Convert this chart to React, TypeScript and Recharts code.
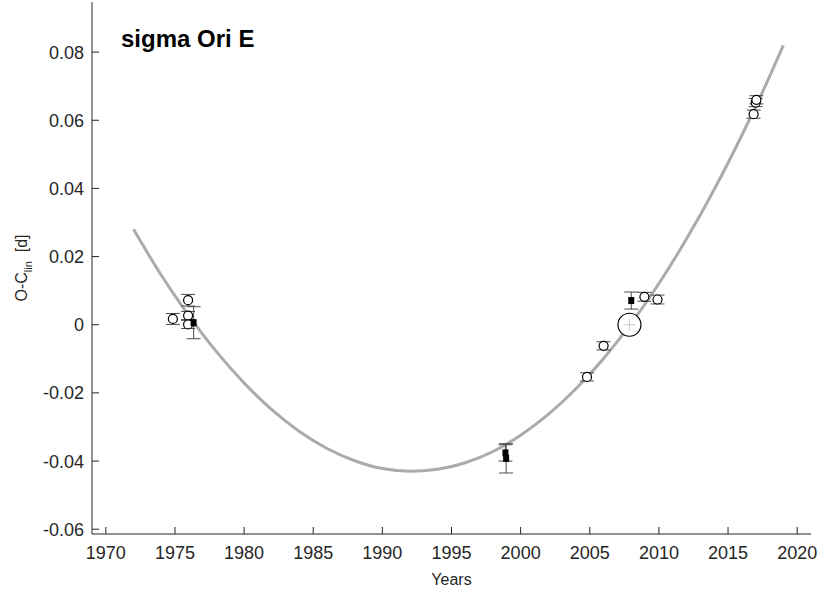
import React from "react";
import { ComposedChart, Line, Scatter, XAxis, YAxis, ErrorBar, Label } from "recharts";

// quadratic ephemeris fit, read at two-year steps
const fitYears = [1972, 1974, 1976, 1978, 1980, 1982, 1984, 1986, 1988, 1990, 1992, 1994, 1996, 1998, 2000, 2002, 2004, 2006, 2008, 2010, 2012, 2014, 2016, 2018, 2019];
const fitValues = [0.028, 0.0146, 0.0027, -0.0079, -0.0171, -0.0249, -0.0313, -0.0363, -0.0399, -0.0422, -0.043, -0.0424, -0.0405, -0.0372, -0.0324, -0.0263, -0.0188, -0.0099, 0.0004, 0.0121, 0.0252, 0.0397, 0.0556, 0.0728, 0.082];

// photometric minima (open circles)
const openYears = [1974.85, 1975.95, 1975.95, 1975.95, 2004.8, 2006.0, 2008.95, 2009.9, 2016.85, 2017.0, 2017.05];
const openValues = [0.0017, 0.0072, 0.0027, 0.0001, -0.0153, -0.0062, 0.0082, 0.0074, 0.0618, 0.0652, 0.066];
const openErrors = [0.0016, 0.0017, 0.0012, 0.0012, 0.0012, 0.0012, 0.0013, 0.0013, 0.0012, 0.0012, 0.0012];

// spectroscopic minima (filled squares)
const filledYears = [1976.35, 1998.9, 1998.95, 2008.0];
const filledValues = [0.0006, -0.0376, -0.0392, 0.0071];
const filledErrors = [0.0047, 0.0024, 0.0043, 0.0025];

// reference epoch
const refYears = [2007.87];
const refValues = [0.0];

const xTicks = [1970, 1975, 1980, 1985, 1990, 1995, 2000, 2005, 2010, 2015, 2020];
const yTicks = [-0.06, -0.04, -0.02, 0, 0.02, 0.04, 0.06, 0.08];

const FONT = "'Liberation Sans', Arial, Helvetica, sans-serif";
const AXIS = "#262626";
const TICK_LEN = 7;

const fitData = fitYears.map((year, i) => ({ year, oc: fitValues[i] }));
const openData = openYears.map((year, i) => ({ year, oc: openValues[i], err: openErrors[i] }));
const filledData = filledYears.map((year, i) => ({ year, oc: filledValues[i], err: filledErrors[i] }));
const refData = refYears.map((year, i) => ({ year, oc: refValues[i] }));

const fmtY = (v: number) => (v === 0 ? "0" : v.toFixed(2));

const BottomTick = ({ x, y, payload }: any) => (
  <g>
    <line x1={x} x2={x} y1={y - 25} y2={y - 25 - TICK_LEN} stroke={AXIS} />
    <text x={x} y={y} textAnchor="middle" fill={AXIS} fontSize={18}>
      {payload.value}
    </text>
  </g>
);

const LeftTick = ({ x, y, payload }: any) => (
  <g>
    <line x1={x + 8} x2={x + 8 + TICK_LEN} y1={y} y2={y} stroke={AXIS} />
    <text x={x} y={y + 6.5} textAnchor="end" fill={AXIS} fontSize={18}>
      {fmtY(payload.value)}
    </text>
  </g>
);

const TopTick = ({ x, y }: any) => <line x1={x} x2={x} y1={y} y2={y + TICK_LEN} stroke={AXIS} />;
const RightTick = ({ x, y }: any) => <line x1={x} x2={x - TICK_LEN} y1={y} y2={y} stroke={AXIS} />;

const YTitle = ({ viewBox }: any) => {
  const cx = 27;
  const cy = viewBox.y + viewBox.height / 2;
  return (
    <text x={cx} y={cy} transform={`rotate(-90, ${cx}, ${cy})`} textAnchor="middle" fill={AXIS} fontSize={16}>
      O-C
      <tspan dy={5} fontSize={11}>lin</tspan>
      <tspan dy={-5}>{"\u00a0\u00a0[d]"}</tspan>
    </text>
  );
};

const OpenCircle = ({ cx, cy }: any) => <circle cx={cx} cy={cy} r={4.5} fill="#fff" stroke="#000" strokeWidth={1.2} />;
const FilledSquare = ({ cx, cy }: any) => <rect x={cx - 3} y={cy - 3.5} width={6} height={7} fill="#000" />;
const RefCircle = ({ cx, cy }: any) => (
  <g>
    <circle cx={cx} cy={cy} r={11.5} fill="#fff" stroke="#000" strokeWidth={1.2} />
    <line x1={cx - 6} x2={cx + 6} y1={cy} y2={cy} stroke="#c8c8c8" />
    <line x1={cx} x2={cx} y1={cy - 6} y2={cy + 6} stroke="#c8c8c8" />
  </g>
);
const Nothing = () => <g />;

export default function App() {
  return (
    <div style={{ position: "absolute", left: 0, top: 0, width: 818, height: 592, background: "#fff", fontFamily: FONT }}>
      <ComposedChart width={818} height={592} margin={{ top: 2, right: 7, bottom: 0, left: 0 }} style={{ fontFamily: FONT }}>
        <XAxis dataKey="year" type="number" domain={[1969, 2021]} ticks={xTicks} interval={0} allowDataOverflow height={58} tickSize={0} tickMargin={25} tick={BottomTick} stroke={AXIS}>
          <Label value="Years" position="insideBottom" offset={7} fill={AXIS} fontSize={16} />
        </XAxis>
        <YAxis dataKey="oc" type="number" domain={[-0.0614, 0.0947]} ticks={yTicks} interval={0} allowDataOverflow width={92} tickSize={0} tickMargin={8} tick={LeftTick} stroke={AXIS}>
          <Label content={YTitle} />
        </YAxis>
        <XAxis xAxisId="top" orientation="top" dataKey="year" type="number" domain={[1969, 2021]} ticks={xTicks} interval={0} allowDataOverflow height={0} tickSize={0} tickMargin={0} tick={TopTick} stroke={AXIS} />
        <YAxis yAxisId="right" orientation="right" dataKey="oc" type="number" domain={[-0.0614, 0.0947]} ticks={yTicks} interval={0} allowDataOverflow width={0} tickSize={0} tickMargin={0} tick={RightTick} stroke={AXIS} />

        <Scatter xAxisId="top" yAxisId="right" data={fitData} shape={Nothing} isAnimationActive={false} />
        <Line data={fitData} dataKey="oc" type="monotone" stroke="#ababab" strokeWidth={3} dot={false} activeDot={false} isAnimationActive={false} />
        <Scatter data={openData} shape={OpenCircle} isAnimationActive={false}>
          <ErrorBar dataKey="err" direction="y" width={7} stroke="#4d4d4d" strokeWidth={1} />
        </Scatter>
        <Scatter data={filledData} shape={FilledSquare} isAnimationActive={false}>
          <ErrorBar dataKey="err" direction="y" width={7} stroke="#4d4d4d" strokeWidth={1} />
        </Scatter>
        <Scatter data={refData} shape={RefCircle} isAnimationActive={false} />
      </ComposedChart>
      <svg width={818} height={592} style={{ position: "absolute", left: 0, top: 0, pointerEvents: "none" }}>
        <text x={121} y={47} fontSize={24} fontWeight="bold" fill="#000" fontFamily={FONT}>
          sigma Ori E
        </text>
      </svg>
    </div>
  );
}
